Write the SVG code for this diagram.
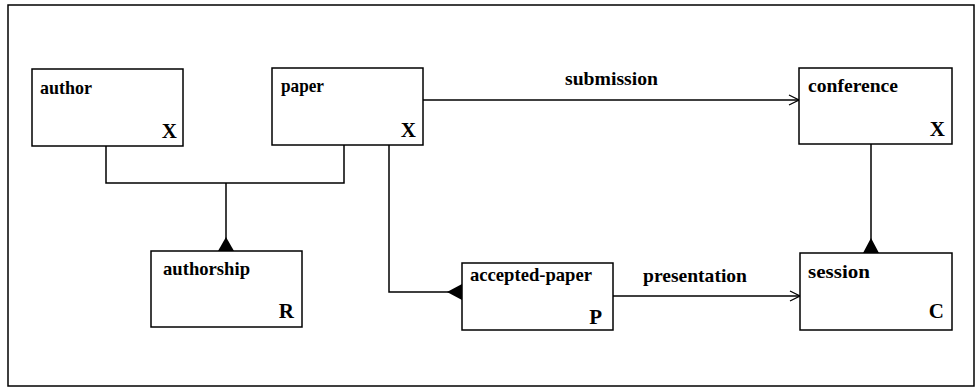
<svg xmlns="http://www.w3.org/2000/svg" width="979" height="389" viewBox="0 0 979 389">
<style>
.box{fill:#fff;stroke:#000;stroke-width:1.5}
.lbl{font-family:"Liberation Serif","Times New Roman",serif;font-weight:bold;font-size:19px;fill:#000}
.tag{font-family:"Liberation Serif","Times New Roman",serif;font-weight:bold;font-size:21px;fill:#000;text-anchor:end}
.ln{fill:none;stroke:#000;stroke-width:1.5}
.tri{fill:#000}
</style>
<defs>
<marker id="open" viewBox="0 0 12 12" refX="11" refY="6" markerWidth="12" markerHeight="12" markerUnits="userSpaceOnUse" orient="auto">
<path d="M1,1 L11,6 L1,11" fill="none" stroke="#000" stroke-width="1.3"/>
</marker>
</defs>
<rect x="8" y="5" width="966" height="381" fill="none" stroke="#000" stroke-width="1.5"/>
<g id="connectors">
<polyline class="ln" points="106,146 106,183 344,183 344,145"/>
<line class="ln" x1="226" y1="183" x2="226" y2="251"/>
<polygon class="tri" points="218,251 234,251 226,237"/>
<line class="ln" x1="423" y1="100" x2="799" y2="100" marker-end="url(#open)"/>
<text class="lbl" x="565" y="85" textLength="93" lengthAdjust="spacingAndGlyphs">submission</text>
<polyline class="ln" points="389,145 389,292 462,292"/>
<polygon class="tri" points="462,284 462,300 447,292"/>
<line class="ln" x1="871" y1="144" x2="871" y2="253"/>
<polygon class="tri" points="863,253 879,253 871,238"/>
<line class="ln" x1="613" y1="296" x2="800" y2="296" marker-end="url(#open)"/>
<text class="lbl" x="643" y="282" textLength="104" lengthAdjust="spacingAndGlyphs">presentation</text>
</g>
<g id="author">
<rect class="box" x="32" y="69" width="151" height="77"/>
<text class="lbl" x="40" y="94" textLength="52" lengthAdjust="spacingAndGlyphs">author</text>
<text class="tag" x="177" y="138">X</text>
</g>
<g id="paper">
<rect class="box" x="272" y="68" width="151" height="77"/>
<text class="lbl" x="281" y="92" textLength="43" lengthAdjust="spacingAndGlyphs">paper</text>
<text class="tag" x="416" y="137">X</text>
</g>
<g id="conference">
<rect class="box" x="799" y="68" width="153" height="76"/>
<text class="lbl" x="808" y="92" textLength="90" lengthAdjust="spacingAndGlyphs">conference</text>
<text class="tag" x="945" y="136">X</text>
</g>
<g id="authorship">
<rect class="box" x="151" y="251" width="151" height="76"/>
<text class="lbl" x="163" y="275" textLength="87" lengthAdjust="spacingAndGlyphs">authorship</text>
<text class="tag" x="294" y="318">R</text>
</g>
<g id="accepted-paper">
<rect class="box" x="462" y="263" width="151" height="67"/>
<text class="lbl" x="470" y="281" textLength="122" lengthAdjust="spacingAndGlyphs">accepted-paper</text>
<text class="tag" x="602" y="324">P</text>
</g>
<g id="session">
<rect class="box" x="800" y="253" width="152" height="77"/>
<text class="lbl" x="808" y="278" textLength="62" lengthAdjust="spacingAndGlyphs">session</text>
<text class="tag" x="944" y="318">C</text>
</g>
</svg>
